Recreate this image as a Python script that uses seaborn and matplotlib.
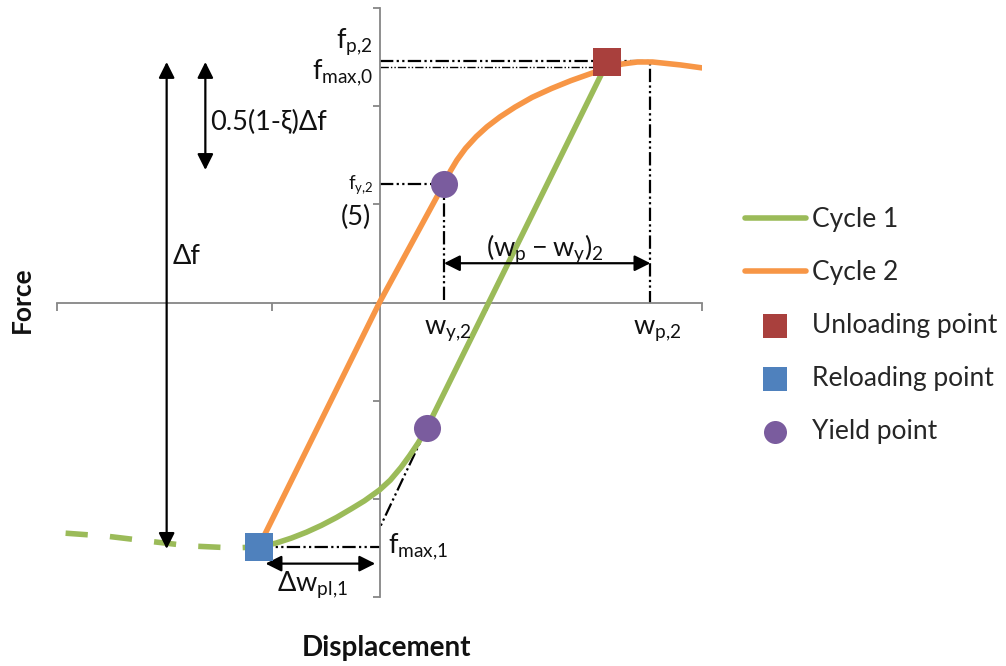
import matplotlib
matplotlib.use("Agg")
import matplotlib.pyplot as plt
import seaborn as sns

# ---------------- data (in axis units) ----------------
cycle2_x = [-0.56, 0.00, 0.30, 0.33, 0.36, 0.40, 0.45, 0.50, 0.56, 0.63, 0.71, 0.80,
            0.89, 0.98, 1.06, 1.13, 1.20, 1.27, 1.40, 1.50]
cycle2_y = [-2.48, 0.00, 1.21, 1.34, 1.45, 1.57, 1.69, 1.79, 1.89, 1.99, 2.09, 2.18,
            2.26, 2.33, 2.39, 2.43, 2.45, 2.45, 2.42, 2.39]

cycle1_x = [-0.56, -0.48, -0.41, -0.34, -0.27, -0.20, -0.13, -0.07, 0.00, 0.05, 0.10,
            0.14, 0.18, 0.22, 1.06]
cycle1_y = [-2.49, -2.45, -2.40, -2.34, -2.27, -2.19, -2.10, -2.02, -1.91, -1.81, -1.68,
            -1.56, -1.43, -1.28, 2.45]

cycle1_prev_x = [-1.46, -1.27, -1.08, -0.88, -0.68, -0.56]
cycle1_prev_y = [-2.35, -2.38, -2.43, -2.48, -2.50, -2.49]

unload_x, unload_y = [1.06], [2.45]
reload_x, reload_y = [-0.56], [-2.49]
yield_x, yield_y = [0.30, 0.22], [1.21, -1.28]

# reference levels
f_p2, f_max0, f_y2, f_max1 = 2.46, 2.40, 1.21, -2.49
w_p2, w_y2 = 1.26, 0.30
tangent_end = (0.0, -2.30)

x_ticks = [-1.5, -0.5, 0.5, 1.5]
y_ticks = [-3, -2, -1, 0, 1, 2, 3]

legend_order = ["Cycle 1", "Cycle 2", "Unloading point", "Reloading point", "Yield point"]

GREEN, ORANGE = "#9BBB59", "#F79646"
RED, BLUE, PURPLE = "#A9403D", "#4F81BD", "#7A5C9E"
GREY = "#868686"
TXT = "#111111"

# ---------------- style ----------------
sns.set_theme(style="white")
plt.rcParams["font.family"] = ["Lato", "DejaVu Sans"]
plt.rcParams["mathtext.default"] = "regular"

W, H = 1006, 666
fig = plt.figure(figsize=(W / 100, H / 100), dpi=100)
ax = fig.add_axes([57 / W, 69 / H, 645 / W, 589 / H])
ax.set_facecolor("white")

# ---------------- curves ----------------
sns.lineplot(x=cycle1_prev_x, y=cycle1_prev_y, sort=False, estimator=None, color=GREEN,
             lw=4, ax=ax, zorder=2)
ax.lines[-1].set_dashes((4, 4))
sns.lineplot(x=cycle1_x, y=cycle1_y, sort=False, estimator=None, color=GREEN, lw=4,
             ax=ax, label="Cycle 1", zorder=3)
sns.lineplot(x=cycle2_x, y=cycle2_y, sort=False, estimator=None, color=ORANGE, lw=4,
             ax=ax, label="Cycle 2", zorder=3)
for ln in ax.lines:
    ln.set_solid_joinstyle("round")

# ---------------- reference dash-dot lines ----------------
dd = (0, (6, 1.5, 1, 1.5, 1, 1.5))
kw = dict(color="black", lw=1.6, linestyle=dd, zorder=2)
ax.plot([0, w_p2, w_p2], [f_p2, f_p2, 0], **kw)
ax.plot([0, unload_x[0]], [f_max0, f_max0], color="black", lw=1.0, linestyle=dd, zorder=2)
ax.plot([0, w_y2, w_y2], [f_y2, f_y2, 0], **kw)
ax.plot([reload_x[0], 0], [f_max1, f_max1], **kw)
ax.plot([yield_x[1], tangent_end[0]], [yield_y[1], tangent_end[1]], **kw)

# ---------------- markers ----------------
sns.scatterplot(x=unload_x, y=unload_y, marker="s", s=400, color=RED, linewidth=0,
                ax=ax, label="Unloading point", zorder=5)
sns.scatterplot(x=reload_x, y=reload_y, marker="s", s=400, color=BLUE, linewidth=0,
                ax=ax, label="Reloading point", zorder=5)
sns.scatterplot(x=yield_x, y=yield_y, marker="o", s=380, color=PURPLE, linewidth=0,
                ax=ax, label="Yield point", zorder=5)

# ---------------- arrows ----------------
ap = dict(arrowstyle="<|-|>", color="black", lw=1.6, mutation_scale=24,
          shrinkA=0, shrinkB=0)
ax.annotate("", xy=(-0.99, 2.45), xytext=(-0.99, -2.51), arrowprops=ap)
ax.annotate("", xy=(-0.81, 2.45), xytext=(-0.81, 1.35), arrowprops=ap)
ax.annotate("", xy=(w_y2, 0.40), xytext=(w_p2, 0.40), arrowprops=ap)
ax.annotate("", xy=(-0.53, -2.66), xytext=(-0.02, -2.66), arrowprops=ap)

# ---------------- annotations ----------------
fs = 19.5
ax.text(-0.03, 2.59, "$f_{p{,}2}$", ha="right", va="baseline", fontsize=fs, color=TXT)
ax.text(-0.03, 2.27, "$f_{max{,}0}$", ha="right", va="baseline", fontsize=fs, color=TXT)
ax.text(-0.79, 1.76, "0.5(1-ξ)Δf", ha="left", va="baseline", fontsize=fs, color=TXT)
ax.text(-0.03, 1.16, "$f_{y{,}2}$", ha="right", va="baseline", fontsize=13.5, color=TXT)
ax.text(-0.04, 0.79, "(5)", ha="right", va="baseline", fontsize=fs, color=TXT)
ax.text(-0.96, 0.39, "Δf", ha="left", va="baseline", fontsize=fs, color=TXT)
ax.text(0.77, 0.48, "$(w_p-w_y)_2$", ha="center", va="baseline", fontsize=fs, color=TXT)
ax.text(0.32, -0.32, "$w_{y{,}2}$", ha="center", va="baseline", fontsize=fs, color=TXT)
ax.text(1.29, -0.32, "$w_{p{,}2}$", ha="center", va="baseline", fontsize=fs, color=TXT)
ax.text(0.04, -2.55, "$f_{max{,}1}$", ha="left", va="baseline", fontsize=fs, color=TXT)
ax.text(-0.31, -2.94, "$Δw_{pl{,}1}$", ha="center", va="baseline", fontsize=fs, color=TXT)

# ---------------- axes ----------------
ax.set_xlim(-1.5, 1.5)
ax.set_ylim(-3, 3)
ax.spines["left"].set_position(("data", 0))
ax.spines["bottom"].set_position(("data", 0))
ax.spines["top"].set_visible(False)
ax.spines["right"].set_visible(False)
for s in ("left", "bottom"):
    ax.spines[s].set_color(GREY)
    ax.spines[s].set_linewidth(1.3)
ax.set_xticks(x_ticks)
ax.set_yticks(y_ticks)
ax.tick_params(axis="x", bottom=True, direction="out", length=6, width=1.3, color=GREY,
               labelbottom=False)
ax.tick_params(axis="y", left=True, direction="out", length=5, width=1.3, color=GREY,
               labelleft=False)
ax.set_xlabel("")
ax.set_ylabel("")
ax.grid(False)

fig.text(22 / W, 1 - 300 / H, "Force", rotation=90, ha="center", va="center",
         fontsize=19, fontweight="bold", color=TXT)
fig.text(386 / W, 1 - 648 / H, "Displacement", ha="center", va="center",
         fontsize=20, fontweight="bold", color=TXT)

# ---------------- legend ----------------
handles, labels = ax.get_legend_handles_labels()
hl = dict(zip(labels, handles))
ax.legend([hl[k] for k in legend_order], legend_order, loc="upper left",
          bbox_to_anchor=(745 / W, 1 - 207 / H), bbox_transform=fig.transFigure,
          frameon=False, fontsize=19, handlelength=2.3, handletextpad=0.25,
          labelspacing=1.06, borderpad=0, borderaxespad=0, markerscale=0.85)

fig.savefig("out.png", dpi=100)
